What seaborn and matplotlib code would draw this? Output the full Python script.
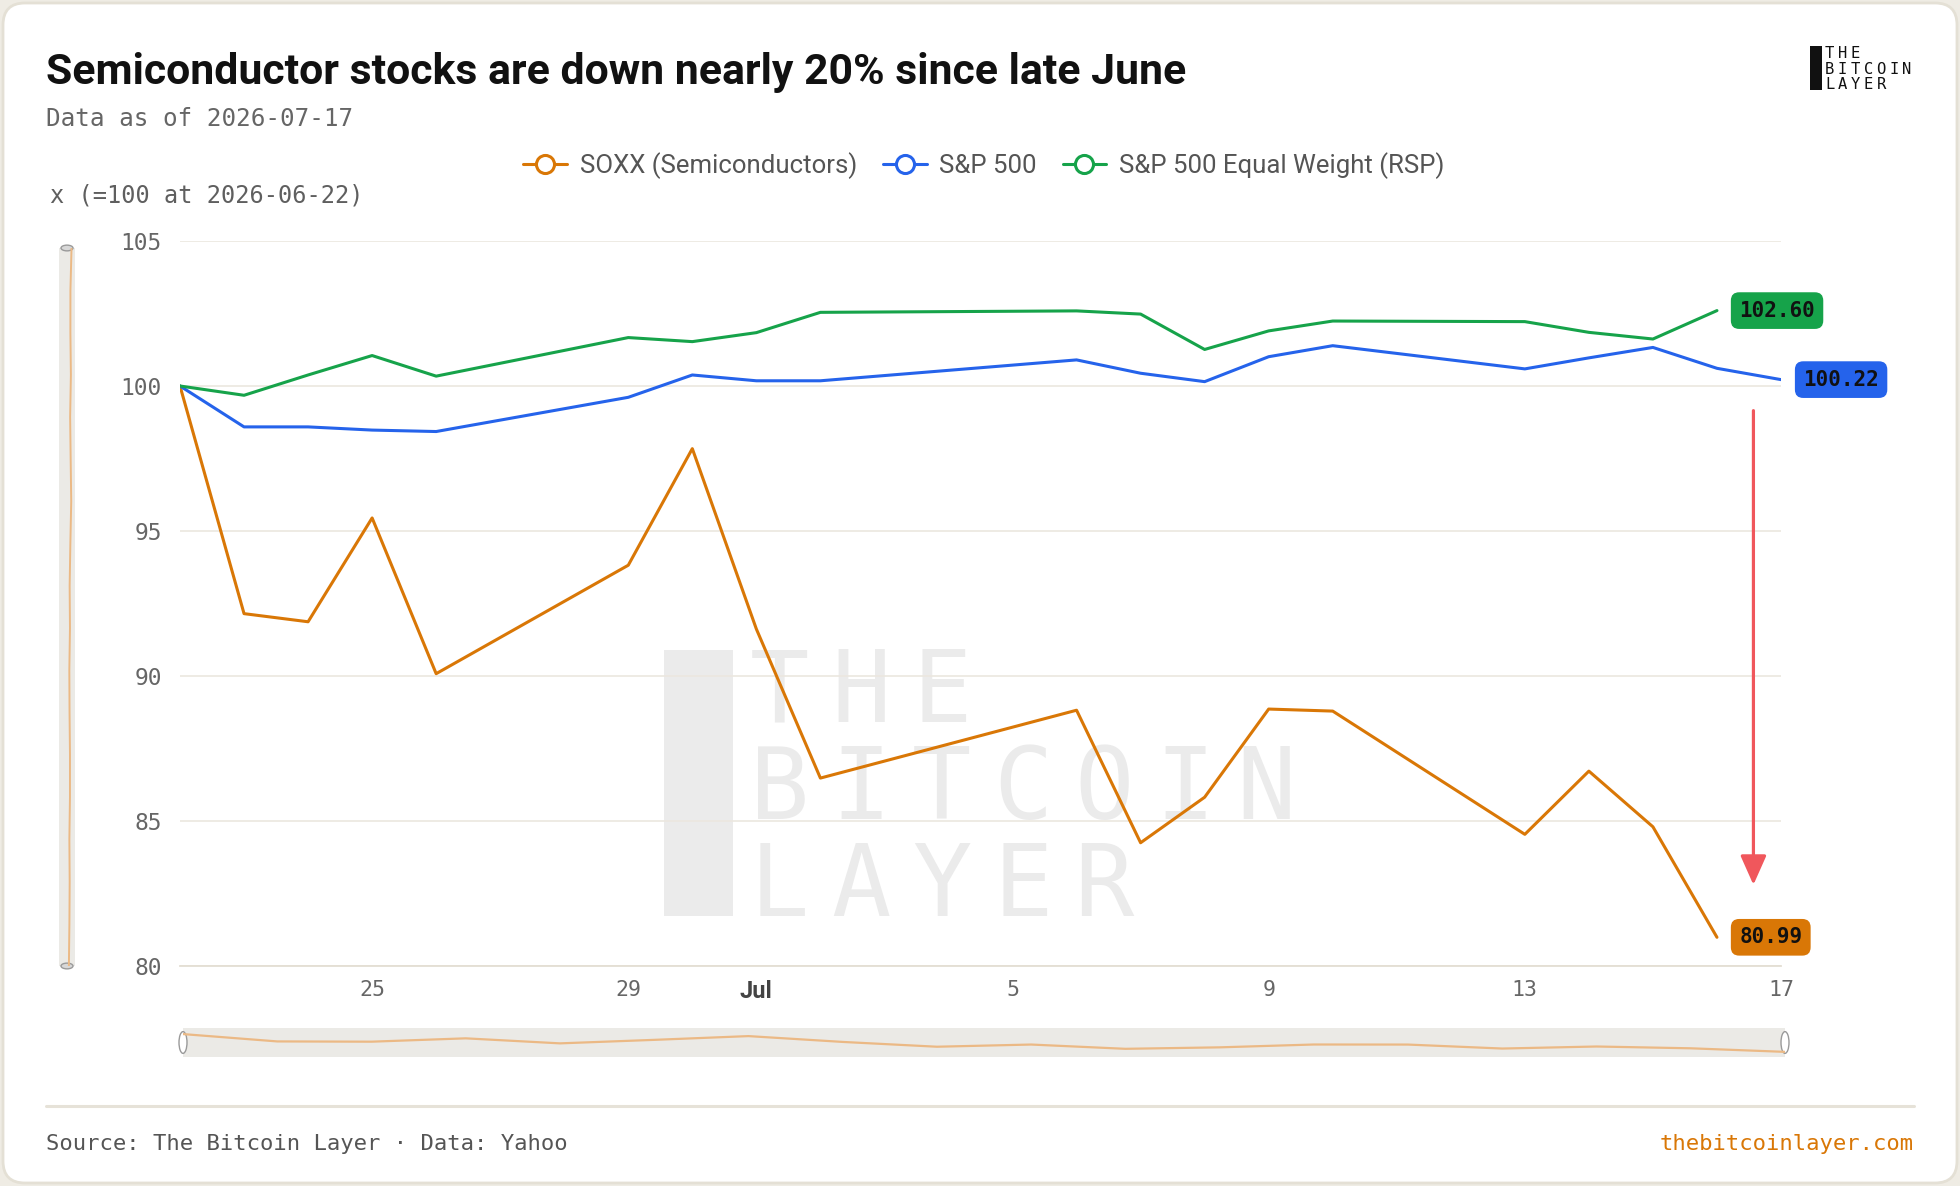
import numpy as np
import pandas as pd
import matplotlib.pyplot as plt
from matplotlib.lines import Line2D
from matplotlib.patches import FancyBboxPatch, Rectangle, Ellipse
from matplotlib.transforms import IdentityTransform
import seaborn as sns

# ---- data (index, =100 at 2026-06-22) ----
dates = ["2026-06-22", "2026-06-23", "2026-06-24", "2026-06-25", "2026-06-26",
         "2026-06-29", "2026-06-30", "2026-07-01", "2026-07-02", "2026-07-06",
         "2026-07-07", "2026-07-08", "2026-07-09", "2026-07-10", "2026-07-13",
         "2026-07-14", "2026-07-15", "2026-07-16", "2026-07-17"]
soxx = [100, 92.15, 91.87, 95.45, 90.08, 93.82, 97.84, 91.62, 86.48, 88.82,
        84.25, 85.82, 88.86, 88.79, 84.54, 86.72, 84.80, 80.99]
spx = [100, 98.59, 98.59, 98.48, 98.43, 99.61, 100.38, 100.18, 100.18, 100.90,
       100.44, 100.15, 101.01, 101.39, 100.59, 100.97, 101.33, 100.61, 100.22]
rsp = [100, 99.68, 100.38, 101.05, 100.34, 101.67, 101.53, 101.84, 102.54, 102.59,
       102.48, 101.26, 101.90, 102.24, 102.22, 101.85, 101.62, 102.60]

series_names = ["SOXX (Semiconductors)", "S&P 500", "S&P 500 Equal Weight (RSP)"]
series_colors = ["#d97706", "#2563eb", "#16a34a"]

x_ticks = ["2026-06-25", "2026-06-29", "2026-07-01", "2026-07-05",
           "2026-07-09", "2026-07-13", "2026-07-17"]
x_tick_labels = ["25", "29", "Jul", "5", "9", "13", "17"]
y_ticks = [80, 85, 90, 95, 100, 105]

arrow_date = "2026-07-16 13:40"
arrow_from, arrow_to = 99.15, 82.8

title = "Semiconductor stocks are down nearly 20% since late June"
subtitle = "Data as of 2026-07-17"
ylabel = "x (=100 at 2026-06-22)"
source = "Source: The Bitcoin Layer · Data: Yahoo"
site = "thebitcoinlayer.com"

# ---- layout helpers (pixel -> figure fraction) ----
W, H = 1960, 1186
def fx(px):
    return px / W
def fy(py):
    return 1 - py / H

sns.set_style("white")
plt.rcParams['font.family'] = ['DejaVu Sans']
MONO = 'DejaVu Sans Mono'
GRID = '#ebe7df'

frames = []
for name, vals in zip(series_names, [soxx, spx, rsp]):
    frames.append(pd.DataFrame({"date": pd.to_datetime(dates[:len(vals)]),
                                "value": vals, "series": name}))
df = pd.concat(frames, ignore_index=True)
palette = dict(zip(series_names, series_colors))

fig = plt.figure(figsize=(W / 100, H / 100), dpi=100, facecolor='#efece4')
fig.add_artist(FancyBboxPatch((3, 3), W - 6, H - 6,
                              boxstyle="round,pad=0,rounding_size=22",
                              transform=IdentityTransform(), fc='white',
                              ec='#e4e0d5', lw=2, zorder=-5))

# watermark
wm_lines = ["THE", "BITCOIN", "LAYER"]
wm_base = [722, 819, 916]
fig.add_artist(Rectangle((fx(664), fy(916)), fx(733) - fx(664), (916 - 650) / H,
                         transform=fig.transFigure, fc='#ebebeb', ec='none', zorder=-2))
for line, yb in zip(wm_lines, wm_base):
    for i, ch in enumerate(line):
        fig.text(fx(750 + i * 81), fy(yb), ch, fontfamily=MONO, fontsize=71,
                 color='#ebebeb', va='baseline', ha='left', zorder=-2)

# ---- main chart ----
x0, x1 = pd.Timestamp("2026-06-22"), pd.Timestamp("2026-07-17")
ax = fig.add_axes([fx(180), fy(966), fx(1781) - fx(180), (966 - 241) / H])
ax.set_facecolor('none')
sns.lineplot(data=df, x='date', y='value', hue='series', palette=palette,
             linewidth=2.2, legend=False, ax=ax)
ax.set_xlim(x0, x1)
ax.set_ylim(80, 105)
ax.set_yticks(y_ticks)
ax.set_yticklabels([str(t) for t in y_ticks])
ax.set_xticks(pd.to_datetime(x_ticks))
ax.set_xticklabels(x_tick_labels)
ax.set_xlabel('')
ax.set_ylabel('')
ax.grid(axis='y', color=GRID, lw=1.2)
ax.grid(axis='x', visible=False)
for s in ['top', 'right', 'left']:
    ax.spines[s].set_visible(False)
ax.spines['bottom'].set_color('#e3ded3')
ax.spines['bottom'].set_linewidth(1.3)
ax.tick_params(axis='y', length=0, pad=13, labelsize=16.5, labelcolor='#666666')
ax.tick_params(axis='x', length=6, width=1, color='#ddd8cc', pad=4,
               labelsize=15.5, labelcolor='#666666')
for lab in ax.get_xticklabels() + ax.get_yticklabels():
    lab.set_fontfamily(MONO)
for lab in ax.get_xticklabels():
    if lab.get_text() == "Jul":
        lab.set_fontfamily('Roboto')
        lab.set_fontsize(17)
        lab.set_fontweight('bold')
        lab.set_color('#444444')

# end-value labels
for name, vals, col in zip(series_names, [soxx, spx, rsp], series_colors):
    ax.annotate(f"{vals[-1]:.2f}", xy=(pd.Timestamp(dates[len(vals) - 1]), vals[-1]),
                xytext=(16, 0), textcoords='offset points', ha='left', va='center',
                fontfamily=MONO, fontsize=15, fontweight='bold', color='#111111',
                annotation_clip=False,
                bbox=dict(boxstyle='round,pad=0.4,rounding_size=0.4', fc=col, ec='none'))

# drop arrow
ax.annotate('', xy=(pd.Timestamp(arrow_date), arrow_to),
            xytext=(pd.Timestamp(arrow_date), arrow_from),
            arrowprops=dict(arrowstyle='-|>,head_length=0.9,head_width=0.4',
                            color='#f0575c', lw=2.3, mutation_scale=20,
                            shrinkA=0, shrinkB=0))

# ---- legend ----
handles = [Line2D([], [], color=c, lw=2.2, marker='o', markersize=13,
                  markerfacecolor='white', markeredgewidth=2.2) for c in series_colors]
fig.legend(handles, series_names, loc='center', bbox_to_anchor=(fx(984), fy(166)),
           ncol=3, frameon=False, prop={'family': 'Roboto', 'size': 18.5},
           labelcolor='#555555', handlelength=1.7, handletextpad=0.5,
           columnspacing=1.0)

# ---- bottom range slider (index based) ----
sax = fig.add_axes([fx(183), fy(1057), fx(1785) - fx(183), 29 / H])
sax.set_facecolor('#ebeae6')
sns.lineplot(x=np.arange(len(soxx)), y=soxx, color='#ebb985', lw=1.6, ax=sax)
sax.set_xlim(0, len(soxx) - 1)
sax.set_ylim(75.5, 106.5)
sax.set_xticks([])
sax.set_yticks([])
for s in sax.spines.values():
    s.set_visible(False)
for xe in [0, 1]:
    sax.add_patch(Ellipse((xe, 0.5), 0.005, 0.75, transform=sax.transAxes,
                          fc='white', ec='#9a9a9a', lw=1, clip_on=False))

# ---- left vertical slider ----
vax = fig.add_axes([fx(59), fy(966), fx(75) - fx(59), (966 - 248) / H])
vax.set_facecolor('#ebeae6')
sns.lineplot(x=soxx, y=np.arange(len(soxx)), orient='y', color='#ebb985', lw=1.4,
             sort=False, ax=vax)
vax.set_xlim(10, 125)
vax.set_ylim(len(soxx) - 1, 0)
vax.set_xticks([])
vax.set_yticks([])
vax.set_xlabel('')
vax.set_ylabel('')
for s in vax.spines.values():
    s.set_visible(False)
for ye in [0, 1]:
    vax.add_patch(Ellipse((0.5, ye), 0.75, 0.008, transform=vax.transAxes,
                          fc='#d8d8d8', ec='#9a9a9a', lw=1, clip_on=False))

# ---- text ----
fig.text(fx(46), fy(84), title, fontfamily='Roboto', fontweight='bold',
         fontsize=30.8, color='#111111', va='baseline', ha='left')
fig.text(fx(46), fy(119), subtitle, fontfamily=MONO, fontsize=17.5,
         color='#666666', va='center', ha='left')
fig.text(fx(50), fy(196), ylabel, fontfamily=MONO, fontsize=17,
         color='#5f5f5f', va='center', ha='left')

# logo
fig.add_artist(Rectangle((fx(1810), fy(90)), fx(12), 44 / H, transform=fig.transFigure,
                         fc='#111111', ec='none'))
for line, yb in zip(["THE", "BITCOIN", "LAYER"], [58, 73.5, 89]):
    for i, ch in enumerate(line):
        fig.text(fx(1825 + i * 12.9), fy(yb), ch, fontfamily=MONO, fontsize=11.2,
                 color='#111111', va='baseline', ha='left')

# footer
fig.add_artist(Line2D([fx(46), fx(1914)], [fy(1106), fy(1106)], color='#e6e2d8', lw=2.2))
fig.text(fx(46), fy(1144), source, fontfamily=MONO, fontsize=16, color='#555555',
         va='center', ha='left')
fig.text(fx(1914), fy(1144), site, fontfamily=MONO, fontsize=16, color='#d97706',
         va='center', ha='right')

fig.savefig('out.png', dpi=100, facecolor=fig.get_facecolor())
